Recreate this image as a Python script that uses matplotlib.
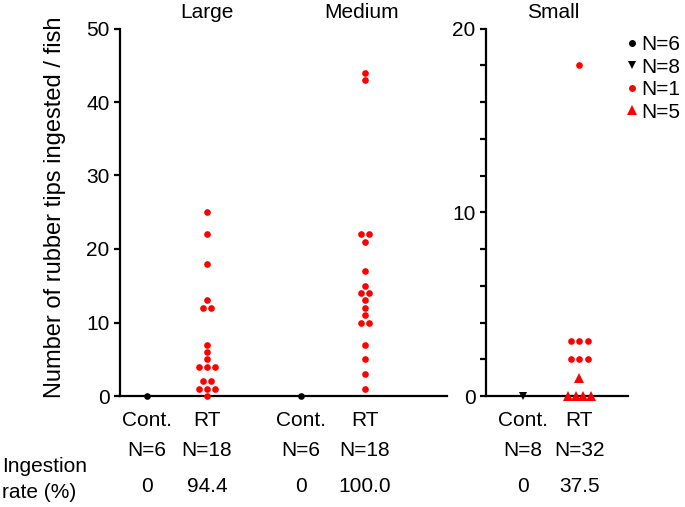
import matplotlib
matplotlib.use('Agg')
import matplotlib.pyplot as plt
import matplotlib.transforms as mtransforms
from matplotlib.lines import Line2D
from matplotlib.ticker import MultipleLocator
import numpy as np

plt.rcParams['font.family'] = ['Liberation Sans', 'DejaVu Sans']

# datos (cada marca = 1 pez, salvo lo que diga la leyenda)
large_rt = [25, 22, 18, 13, 12, 12, 7, 6, 5, 4, 4, 4, 2, 2, 1, 1, 1, 0]
medium_rt = [44, 43, 22, 22, 21, 17, 15, 14, 14, 13, 12, 11, 10, 10, 7, 5, 3, 1]
large_cont = [0]      # 1 marca = 6 peces
medium_cont = [0]     # 1 marca = 6 peces
small_cont = [0]      # 1 marca = 8 peces
small_rt_circ = [18, 3, 3, 3, 2, 2, 2]   # 1 marca = 1 pez
small_rt_tri = [1, 0, 0, 0, 0]            # 1 marca = 5 peces

grupos = ['Large', 'Medium', 'Small']
n_fish = [['N=6', 'N=18'], ['N=6', 'N=18'], ['N=8', 'N=32']]
tasa = [['0', '94.4'], ['0', '100.0'], ['0', '37.5']]
leyenda = ['N=6', 'N=8', 'N=1', 'N=5']

ROJO = '#ff0000'
FS = 15


def enjambre(valores, centro, paso):
    """x para cada punto: los valores repetidos se reparten a los lados."""
    valores = np.asarray(valores)
    xs = np.zeros(len(valores))
    for v in np.unique(valores):
        idx = np.where(valores == v)[0]
        n = len(idx)
        xs[idx] = centro + (np.arange(n) - (n - 1) / 2) * paso
    return xs


def pintar(ax, valores, centro, paso, marker, color, ms=4.8):
    xs = enjambre(valores, centro, paso)
    ax.plot(xs, valores, linestyle='none', marker=marker, color=color,
            markersize=ms, markeredgewidth=0, clip_on=False, zorder=3)


def estilo(ax):
    for lado in ['top', 'right']:
        ax.spines[lado].set_visible(False)
    for lado in ['left', 'bottom']:
        ax.spines[lado].set_linewidth(1.6)
    ax.tick_params(axis='y', which='both', length=4.5, width=1.6, labelsize=FS, pad=3)
    ax.tick_params(axis='x', length=0, labelsize=FS, pad=11)


fig = plt.figure(figsize=(6.85, 5.07), dpi=100)
W, H = 685, 507

ax1 = fig.add_axes([120 / W, 1 - 396 / H, 327 / W, 367.5 / H])
ax2 = fig.add_axes([486 / W, 1 - 396 / H, 142 / W, 367.5 / H])

# panel izquierdo: Large y Medium
pos1 = [1.0, 2.0, 3.57, 4.63]
pintar(ax1, large_cont, pos1[0], 0.135, 'o', 'black')
pintar(ax1, large_rt, pos1[1], 0.135, 'o', ROJO)
pintar(ax1, medium_cont, pos1[2], 0.135, 'o', 'black')
pintar(ax1, medium_rt, pos1[3], 0.135, 'o', ROJO)
ax1.set_xlim(0.55, 6.0)
ax1.set_ylim(0, 50)
ax1.set_yticks([0, 10, 20, 30, 40, 50])
ax1.set_xticks(pos1)
ax1.set_xticklabels(['Cont.', 'RT', 'Cont.', 'RT'])
ax1.set_ylabel('Number of rubber tips ingested / fish', fontsize=17)
ax1.yaxis.set_label_coords(-0.165, 0.513)
estilo(ax1)

# panel derecho: Small
pos2 = [1.0, 2.0]
pintar(ax2, small_cont, pos2[0], 0.14, 'v', 'black', ms=6.0)
pintar(ax2, small_rt_circ, pos2[1], 0.15, 'o', ROJO)
pintar(ax2, small_rt_tri, pos2[1], 0.135, '^', ROJO, ms=6.5)
ax2.set_xlim(0.35, 2.86)
ax2.set_ylim(0, 20)
ax2.set_yticks([0, 10, 20])
ax2.yaxis.set_minor_locator(MultipleLocator(2))
ax2.set_xticks(pos2)
ax2.set_xticklabels(['Cont.', 'RT'])
estilo(ax2)

# titulos de grupo
tr1 = mtransforms.blended_transform_factory(ax1.transData, fig.transFigure)
tr2 = mtransforms.blended_transform_factory(ax2.transData, fig.transFigure)
ax1.text(pos1[1], 1 - 13 / H, grupos[0], fontsize=FS, ha='center', va='center', transform=tr1)
ax1.text(pos1[3] - 0.05, 1 - 13 / H, grupos[1], fontsize=FS, ha='center', va='center', transform=tr1)
ax2.text(1.53, 1 - 13 / H, grupos[2], fontsize=FS, ha='center', va='center', transform=tr2)

# filas de N y tasa de ingestion
filas = [(tr1, pos1[0:2], 0), (tr1, pos1[2:4], 1), (tr2, pos2, 2)]
for tr, pos, g in filas:
    for k in range(2):
        fig.text(pos[k], 1 - 450 / H, n_fish[g][k], fontsize=FS, ha='center',
                 va='center', transform=tr)
        fig.text(pos[k], 1 - 486 / H, tasa[g][k], fontsize=FS, ha='center',
                 va='center', transform=tr)

fig.text(2 / W, 1 - 467 / H, 'Ingestion', fontsize=FS, ha='left', va='center')
fig.text(2 / W, 1 - 492 / H, 'rate (%)', fontsize=FS, ha='left', va='center')

# leyenda
handles = [
    Line2D([], [], linestyle='none', marker='o', color='black', markersize=5, markeredgewidth=0),
    Line2D([], [], linestyle='none', marker='v', color='black', markersize=6.0, markeredgewidth=0),
    Line2D([], [], linestyle='none', marker='o', color=ROJO, markersize=5, markeredgewidth=0),
    Line2D([], [], linestyle='none', marker='^', color=ROJO, markersize=6.5, markeredgewidth=0),
]
fig.legend(handles, leyenda, loc='upper left', bbox_to_anchor=(626 / W, 1 - 35 / H),
           frameon=False, fontsize=FS, handlelength=0.6, handletextpad=0.15,
           labelspacing=0.17, borderpad=0, borderaxespad=0)

fig.savefig('out.png', dpi=100)
